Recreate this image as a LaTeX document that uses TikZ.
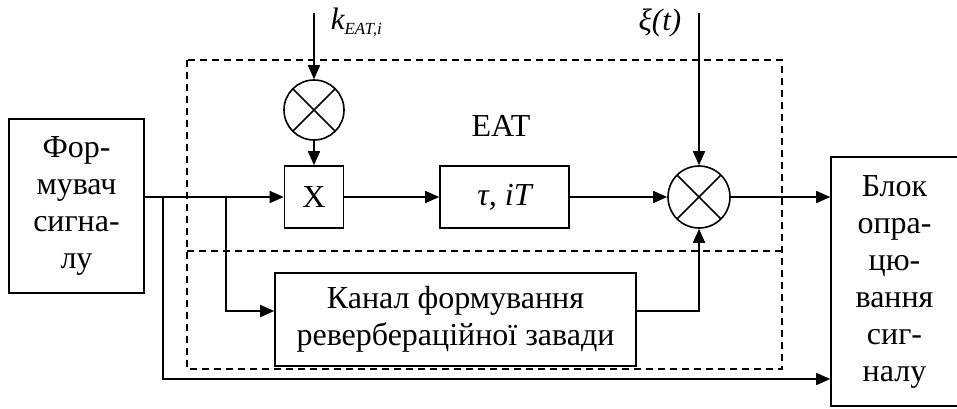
\documentclass[tikz,border=0pt]{standalone}
\usepackage{fontspec}
\setmainfont{Liberation Serif}
\usetikzlibrary{arrows.meta}
\begin{document}
\begin{tikzpicture}[x=1pt,y=-1pt,
  line width=1.6pt,
  every node/.style={font=\fontsize{32}{37}\selectfont},
  block/.style={draw, inner sep=0pt, align=center},
  mixer/.style={draw, circle, inner sep=0pt,
    path picture={\draw[line width=1.6pt]
      (path picture bounding box.north west) -- (path picture bounding box.south east)
      (path picture bounding box.north east) -- (path picture bounding box.south west);}},
  sig/.style={-{Triangle[length=14pt,width=12pt]}},
  frame/.style={dash pattern=on 7pt off 5pt, line width=1.3pt},
  lbl/.style={inner sep=0pt, font=\fontsize{31}{31}\selectfont\itshape}
]
\useasboundingbox (0,0) rectangle (957,408);

% dashed frame of the EAT part, split into upper and lower sections
\draw[frame] (187,60) rectangle (782,369);
\draw[frame] (187,251) -- (782,251);

% blocks
\node[block, minimum width=135pt, minimum height=174pt] (form) at (76.5,206)
  {Фор-\\мувач\\сигна-\\лу};
\node[block, minimum width=59pt, minimum height=62pt] (mulx) at (314,197) {X};
\node[block, minimum width=129pt, minimum height=62pt] (delay) at (504.5,197)
  {\itshape τ, iT};
\node[block, minimum width=361pt, minimum height=93pt] (kanal) at (455.5,319.5)
  {Канал формування\\реверберацiйної завади};
\node[block, minimum width=127pt, minimum height=249pt] (blok) at (894.5,281.5)
  {Блок\\опра-\\цю-\\вання\\сиг-\\налу};

% multipliers
\node[mixer, minimum size=60pt] (mix) at (314,110) {};
\node[mixer, minimum size=62pt] (sum) at (699,197) {};

% labels
\node (eat) at (501,126) {EAT};
\node[lbl, anchor=base west] (klbl) at (330,29)
  {k\raisebox{-5pt}{\fontsize{17}{17}\selectfont EAT,i}};
\node[lbl, anchor=base east] (xilbl) at (682,30) {ξ(t)};

% input points and branch points
\coordinate (kin) at (314,13);
\coordinate (xin) at (699,13);
\coordinate (j1) at (163,197);
\coordinate (j2) at (226,197);
\coordinate (b1) at (163,379);
\coordinate (b2) at (226,311);

% connectors
\draw[sig] (kin) -- (mix.north);
\draw[sig] (mix.south) -- (mulx.north);
\draw[sig] (form.east |- mulx.west) -- (mulx.west);
\draw[sig] (mulx.east) -- (delay.west);
\draw[sig] (delay.east) -- (sum.west);
\draw[sig] (xin) -- (sum.north);
\draw[sig] (sum.east) -- (sum.east -| blok.west);
\draw[sig] (j2) -- (b2) -- (b2 -| kanal.west);
\draw[sig] (kanal.east |- b2) -| (sum.south);
\draw[sig] (j1) -- (b1) -- (b1 -| blok.west);
\end{tikzpicture}
\end{document}
